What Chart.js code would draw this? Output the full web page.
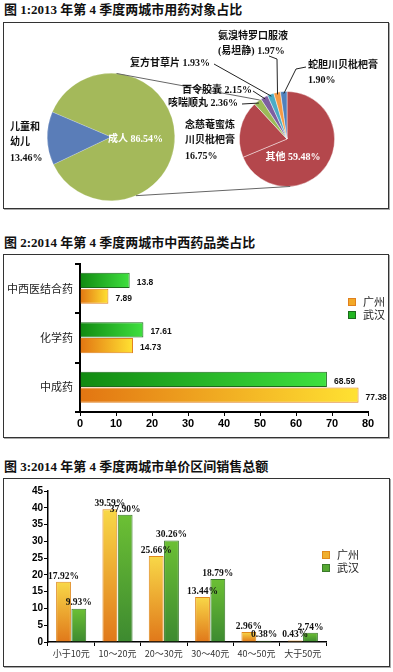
<!DOCTYPE html>
<html>
<head>
<meta charset="utf-8">
<script src="https://cdn.jsdelivr.net/npm/chart.js@4.4.1/dist/chart.umd.min.js"></script>
<style>
body{margin:0;background:#fff;width:393px;height:672px;position:relative;overflow:hidden;}
.title{position:absolute;left:4px;font:bold 13px "Liberation Serif","Noto Sans CJK SC";color:#111;white-space:nowrap;line-height:16px;}
.box{position:absolute;left:3px;border:1px solid #333;box-shadow:1px 1px 0 #aaa;background:#fff;}
.box canvas{position:absolute;left:0;top:0;}
</style>
</head>
<body>
<div class="title" style="top:2px">图 1:2013 年第 4 季度两城市用药对象占比</div>
<div class="box" style="top:22px;width:384px;height:185px">
  <canvas id="pieLeft" width="384" height="185"></canvas>
  <canvas id="pieRight" width="384" height="185"></canvas>
</div>
<div class="title" style="top:235px">图 2:2014 年第 4 季度两城市中西药品类占比</div>
<div class="box" style="top:254px;width:384px;height:182px">
  <canvas id="kinds" width="384" height="182"></canvas>
</div>
<div class="title" style="top:459px">图 3:2014 年第 4 季度两城市单价区间销售总额</div>
<div class="box" style="top:478px;width:385px;height:187px">
  <canvas id="price" width="385" height="187"></canvas>
</div>

<script>
// chart 1 data
const ageLabels = ['成人', '儿童和\n幼儿'];
const ageValues = [86.54, 13.46];
const drugLabels = ['其他', '念慈菴蜜炼\n川贝枇杷膏', '咳喘顺丸', '百令胶囊', '复方甘草片', '氨溴特罗口服液\n(易坦静)', '蛇胆川贝枇杷膏'];
const drugValues = [59.48, 16.75, 2.36, 2.15, 1.93, 1.97, 1.90];

// chart 2 data
const kindLabels = ['中西医结合药', '化学药', '中成药'];
const kindWuhan = [13.8, 17.61, 68.59];
const kindGuangzhou = [7.89, 14.73, 77.38];
const kindTicks = {min: 0, max: 80, step: 10};

// chart 3 data
const priceLabels = ['小于10元', '10～20元', '20～30元', '30～40元', '40～50元', '大于50元'];
const priceGuangzhou = [17.92, 39.59, 25.66, 13.44, 2.96, 0.43];
const priceWuhan = [9.93, 37.90, 30.26, 18.79, 0.38, 2.74];
const priceTicks = {min: 0, max: 45, step: 5};

const labelFont = 'bold 10px "Liberation Serif", "Noto Sans CJK SC"';

function pct(v){ return v.toFixed(2) + '%'; }

function drawLines(ctx, text, x, y, align, color){
  ctx.save();
  ctx.font = labelFont;
  ctx.fillStyle = color || '#111';
  ctx.textAlign = align || 'left';
  ctx.textBaseline = 'middle';
  text.split('\n').forEach((t, i) => ctx.fillText(t, x, y + i*15.5));
  ctx.restore();
}

function edgePoint(arc, deg){
  const a = (deg - 90) * Math.PI / 180;
  return [arc.x + Math.cos(a)*arc.outerRadius, arc.y + Math.sin(a)*arc.outerRadius];
}

/* LEFT PIE */
let leftPie = new Chart(document.getElementById('pieLeft'), {
  type: 'pie',
  data: {
    labels: ageLabels,
    datasets: [{
      data: ageValues,
      backgroundColor: ['#a4b95a', '#5a7db8'],
      borderColor: 'rgba(255,255,255,0.4)',
      borderWidth: 0.5
    }]
  },
  options: {
    responsive: false, animation: false, events: [],
    rotation: -67,
    layout: {padding: {left: 43, right: 213, top: 50, bottom: 7}},
    plugins: {legend: {display: false}, tooltip: {enabled: false}}
  }
});

const leftPos = [
  {x: 104, y: 116, sep: ' ', color: '#fff'},
  {x: 6, y: 104, sep: '\n'}
];
const rightPos = [
  {x: 289, y: 134, sep: ' ', color: '#fff', align: 'center'},
  {x: 181, y: 102, sep: '\n'},
  {x: 164, y: 80, sep: ' ', lead: [[238, 81]]},
  {x: 178, y: 67, sep: ' ', lead: [[249, 68]]},
  {x: 126, y: 40, sep: ' ', lead: [[210, 41]]},
  {x: 214, y: 13, sep: ' ', lead: [[265, 33], [273, 36]]},
  {x: 304, y: 42, sep: '\n', lead: [[302, 44], [292, 46]]}
];

/* RIGHT PIE + labels */
let rightPie = new Chart(document.getElementById('pieRight'), {
  type: 'pie',
  data: {
    labels: drugLabels,
    datasets: [{
      data: drugValues,
      backgroundColor: ['#b4474c', '#b4474c', '#9cbb58', '#7d5fa0', '#4bacc6', '#f59a44', '#4f81bd'],
      borderColor: 'rgba(255,255,255,0.55)',
      borderWidth: 0.8
    }]
  },
  options: {
    responsive: false, animation: false, events: [],
    layout: {padding: {left: 235, right: 53, top: 68, bottom: 21}},
    plugins: {legend: {display: false}, tooltip: {enabled: false}}
  },
  plugins: [{
    id: 'pieOfPie',
    afterDraw(chart){
      const ctx = chart.ctx;
      const la = leftPie.getDatasetMeta(0).data[0];
      const arcs = chart.getDatasetMeta(0).data;
      const ra = arcs[0];
      // connector lines between the two pies
      ctx.save();
      ctx.strokeStyle = '#666';
      ctx.lineWidth = 1;
      [[5, 325], [157, 176]].forEach(p => {
        const a = edgePoint(la, p[0]), b = edgePoint(ra, p[1]);
        ctx.beginPath(); ctx.moveTo(a[0], a[1]); ctx.lineTo(b[0], b[1]); ctx.stroke();
      });
      ctx.restore();
      // left pie labels
      ageLabels.forEach((name, i) => {
        const p = leftPos[i];
        drawLines(ctx, name + p.sep + pct(ageValues[i]), p.x, p.y, p.align, p.color);
      });
      // right pie labels and leaders
      drugLabels.forEach((name, i) => {
        const p = rightPos[i];
        drawLines(ctx, name + p.sep + pct(drugValues[i]), p.x, p.y, p.align, p.color);
        if(p.lead){
          const arc = arcs[i];
          const mid = (arc.startAngle + arc.endAngle) / 2;
          ctx.save();
          ctx.strokeStyle = '#222';
          ctx.lineWidth = 1;
          ctx.beginPath();
          ctx.moveTo(p.lead[0][0], p.lead[0][1]);
          p.lead.slice(1).forEach(q => ctx.lineTo(q[0], q[1]));
          ctx.lineTo(arc.x + Math.cos(mid)*(arc.outerRadius - 2), arc.y + Math.sin(mid)*(arc.outerRadius - 2));
          ctx.stroke();
          ctx.restore();
        }
      });
    }
  }]
});

/* gradient per bar, from base to bar end */
function barGrad(horizontal, c0, c1){
  return function(c){
    const chart = c.chart;
    if(c.type !== 'data' || !chart.chartArea) return c1;
    const s = horizontal ? chart.scales.x : chart.scales.y;
    const p0 = s.getPixelForValue(0);
    const p1 = s.getPixelForValue(c.raw);
    if(Math.abs(p1 - p0) < 0.5) return c1;
    const g = horizontal ? chart.ctx.createLinearGradient(p0, 0, p1, 0)
                         : chart.ctx.createLinearGradient(0, p0, 0, p1);
    g.addColorStop(0, c0);
    g.addColorStop(1, c1);
    return g;
  };
}

function legendPlugin(x, y, order){
  return {
    id: 'boxLegend',
    afterDraw(chart){
      const ctx = chart.ctx;
      order.forEach((di, row) => {
        const ds = chart.data.datasets[di];
        const yy = y + row*13;
        ctx.save();
        ctx.fillStyle = ds.legendColor;
        ctx.strokeStyle = ds.borderColor;
        ctx.lineWidth = 1;
        ctx.fillRect(x, yy - 4, 8, 8);
        ctx.strokeRect(x + 0.5, yy - 3.5, 7, 7);
        ctx.fillStyle = '#222';
        ctx.font = '11px "Noto Sans CJK SC"';
        ctx.textBaseline = 'middle';
        ctx.fillText(ds.label, x + 15, yy);
        ctx.restore();
      });
    }
  };
}

/* CHART 2: horizontal bars */
new Chart(document.getElementById('kinds'), {
  type: 'bar',
  data: {
    labels: kindLabels,
    datasets: [
      {label: '武汉', data: kindWuhan, backgroundColor: barGrad(true, '#118a11', '#3fe03f'),
       legendColor: '#22b622', borderColor: '#1c6a1c', borderWidth: 1},
      {label: '广州', data: kindGuangzhou, backgroundColor: barGrad(true, '#e27512', '#ffe232'),
       legendColor: '#f2a928', borderColor: '#e0801e', borderWidth: 1}
    ]
  },
  options: {
    indexAxis: 'y',
    responsive: false, animation: false, events: [],
    layout: {padding: {top: 7, right: 20, left: 0, bottom: 0}},
    datasets: {bar: {categoryPercentage: 0.64, barPercentage: 0.96}},
    scales: {
      x: {
        min: kindTicks.min, max: kindTicks.max,
        ticks: {stepSize: kindTicks.step, color: '#000', padding: 1,
                font: {family: 'Liberation Sans', size: 11, weight: 'bold'}},
        grid: {drawOnChartArea: false, tickLength: 4, color: '#000'},
        border: {color: '#000', width: 2},
        afterFit: s => { s.height = 25; }
      },
      y: {
        ticks: {color: '#222', padding: 2, font: {family: 'Noto Sans CJK SC', size: 11}},
        grid: {drawOnChartArea: false, offset: true, tickLength: 5, color: '#000', lineWidth: 2},
        border: {color: '#000', width: 2},
        afterFit: s => { s.width = 76; }
      }
    },
    plugins: {legend: {display: false}, tooltip: {enabled: false}}
  },
  plugins: [{
    id: 'values',
    afterDatasetsDraw(chart){
      const ctx = chart.ctx;
      ctx.save();
      ctx.font = 'bold 8.5px "Liberation Sans"';
      ctx.fillStyle = '#111';
      ctx.textBaseline = 'middle';
      chart.data.datasets.forEach((ds, di) => {
        chart.getDatasetMeta(di).data.forEach((bar, i) => {
          ctx.fillText(String(ds.data[i]), bar.x + 7, bar.y + 2);
        });
      });
      ctx.restore();
    }
  }, legendPlugin(344, 47, [1, 0])]
});

/* CHART 3: vertical bars */
new Chart(document.getElementById('price'), {
  type: 'bar',
  data: {
    labels: priceLabels,
    datasets: [
      {label: '广州', data: priceGuangzhou, backgroundColor: barGrad(false, '#e0781a', '#f8d848'),
       legendColor: '#f0b030', borderColor: '#e08a1e', borderWidth: 1},
      {label: '武汉', data: priceWuhan, backgroundColor: barGrad(false, '#3d8a30', '#6cc034'),
       legendColor: '#55a832', borderColor: '#3b7a2a', borderWidth: 1}
    ]
  },
  options: {
    responsive: false, animation: false, events: [],
    layout: {padding: {top: 12, right: 63, left: 0, bottom: 0}},
    datasets: {bar: {categoryPercentage: 0.66, barPercentage: 0.97}},
    scales: {
      x: {
        ticks: {color: '#333', padding: 2, font: {family: 'Noto Sans CJK SC', size: 9}},
        grid: {drawOnChartArea: false, offset: true, tickLength: 4, color: '#000'},
        border: {color: '#000', width: 1.5},
        afterFit: s => { s.height = 24; }
      },
      y: {
        min: priceTicks.min, max: priceTicks.max,
        ticks: {stepSize: priceTicks.step, color: '#000', padding: 1,
                font: {family: 'Liberation Sans', size: 10, weight: 'bold'}},
        grid: {drawOnChartArea: false, tickLength: 4, color: '#000'},
        border: {color: '#000', width: 1.5},
        afterFit: s => { s.width = 44; }
      }
    },
    plugins: {legend: {display: false}, tooltip: {enabled: false}}
  },
  plugins: [{
    id: 'values',
    afterDatasetsDraw(chart){
      const ctx = chart.ctx;
      ctx.save();
      ctx.font = 'bold 9.5px "Liberation Serif"';
      ctx.fillStyle = '#111';
      ctx.textAlign = 'center';
      ctx.textBaseline = 'bottom';
      chart.data.datasets.forEach((ds, di) => {
        chart.getDatasetMeta(di).data.forEach((bar, i) => {
          ctx.fillText(pct(ds.data[i]), bar.x, bar.y - 1);
        });
      });
      ctx.restore();
    }
  }, legendPlugin(318, 76, [0, 1])]
});
</script>
</body>
</html>
